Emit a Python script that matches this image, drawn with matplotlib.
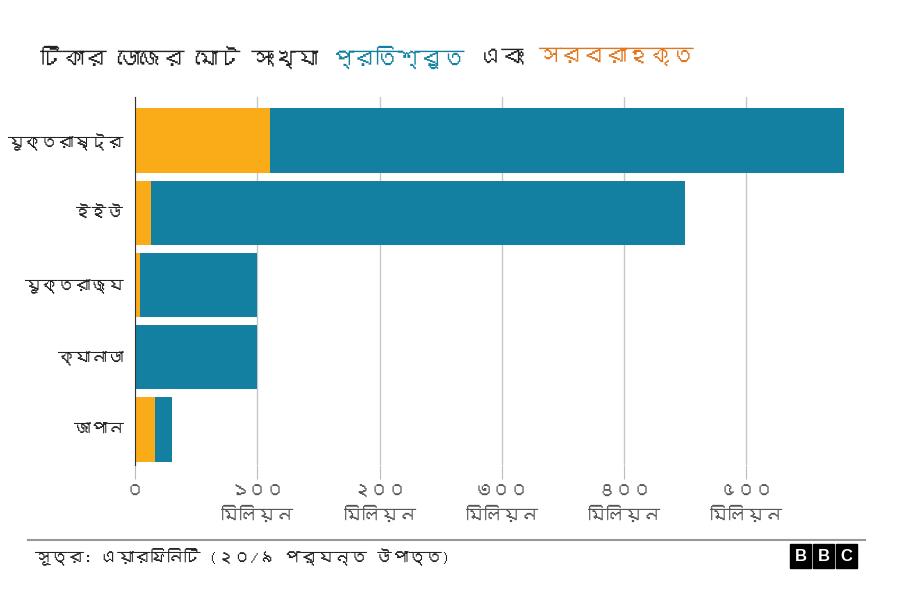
import matplotlib
matplotlib.use("Agg")
import matplotlib.pyplot as plt
from matplotlib import font_manager
from matplotlib.ft2font import FT2Font

# find any installed font that has Bengali glyphs
bn_font = None
for f in font_manager.fontManager.ttflist:
    try:
        if 0x0995 in FT2Font(f.fname).get_charmap():
            bn_font = f.name
            break
    except Exception:
        pass
families = ([bn_font] if bn_font else []) + ["Noto Sans", "DejaVu Sans"]
plt.rcParams["font.family"] = families

countries = ["যুক্তরাষ্ট্র", "ইইউ", "যুক্তরাজ্য", "ক্যানাডা", "জাপান"]
delivered = [110, 13, 4, 0.5, 16]    # সরবরাহকৃত, million doses
promised = [580, 450, 100, 100, 30]  # প্রতিশ্রুত, million doses
tick_vals = [0, 100, 200, 300, 400, 500]
tick_labels = ["০", "১০০\nমিলিয়ন", "২০০\nমিলিয়ন", "৩০০\nমিলিয়ন", "৪০০\nমিলিয়ন", "৫০০\nমিলিয়ন"]
title_parts = ["টিকার ডোজের মোট সংখ্যা", "প্রতিশ্রুত", "এবং", "সরবরাহকৃত"]

blue = "#1380A1"
orange = "#FAAB18"
title_orange = "#E0761E"
title_colors = ["#222222", blue, "#222222", title_orange]

fig = plt.figure(figsize=(9, 6), dpi=100)
ax = fig.add_axes([0.15, 0.225, 0.788, 0.613])

y = range(len(countries))
ax.barh(y, promised, height=0.89, color=blue, zorder=2)
ax.barh(y, delivered, height=0.89, color=orange, zorder=3)

ax.set_xlim(0, 580)
ax.set_ylim(4.49, -0.6)
ax.set_yticks(list(y))
ax.set_yticklabels(countries, fontsize=12, color="#222222")
ax.set_xticks(tick_vals)
ax.set_xticklabels(tick_labels, fontsize=13, color="#555555", linespacing=1.5)
ax.tick_params(axis="y", length=0, pad=8)
ax.tick_params(axis="x", length=10, color="#bbbbbb", pad=4)
ax.grid(axis="x", color="#c8c8c8", linewidth=1, zorder=0)
for s in ["top", "right", "bottom"]:
    ax.spines[s].set_visible(False)
ax.spines["left"].set_color("#333333")
ax.spines["left"].set_zorder(4)

# title pieces laid out one after another
renderer = fig.canvas.get_renderer()
size = 18
while True:
    texts = []
    x = 40
    for part, c in zip(title_parts, title_colors):
        t = fig.text(x / 900, 0.905, part, fontsize=size, color=c, va="center",
                     weight="bold" if c != "#222222" else "normal")
        x = t.get_window_extent(renderer).x1 + 14
        texts.append(t)
    if x < 720 or size <= 10:
        break
    for t in texts:
        t.remove()
    size -= 1

fig.add_artist(plt.Line2D([0.031, 0.961], [0.1, 0.1], color="#999999", linewidth=1.5))
fig.text(0.038, 0.072, "সূত্র: এয়ারফিনিটি (২০/৯ পর্যন্ত উপাত্ত)", fontsize=12, color="#222222", va="center")
for i, ch in enumerate("BBC"):
    x0 = 0.878 + i * 0.0255
    fig.add_artist(plt.Rectangle((x0, 0.053), 0.023, 0.04, color="black"))
    fig.text(x0 + 0.0115, 0.073, ch, fontsize=12, color="white", ha="center", va="center",
             weight="bold", family="Liberation Sans")

fig.savefig("out.png", dpi=100, facecolor="white")
